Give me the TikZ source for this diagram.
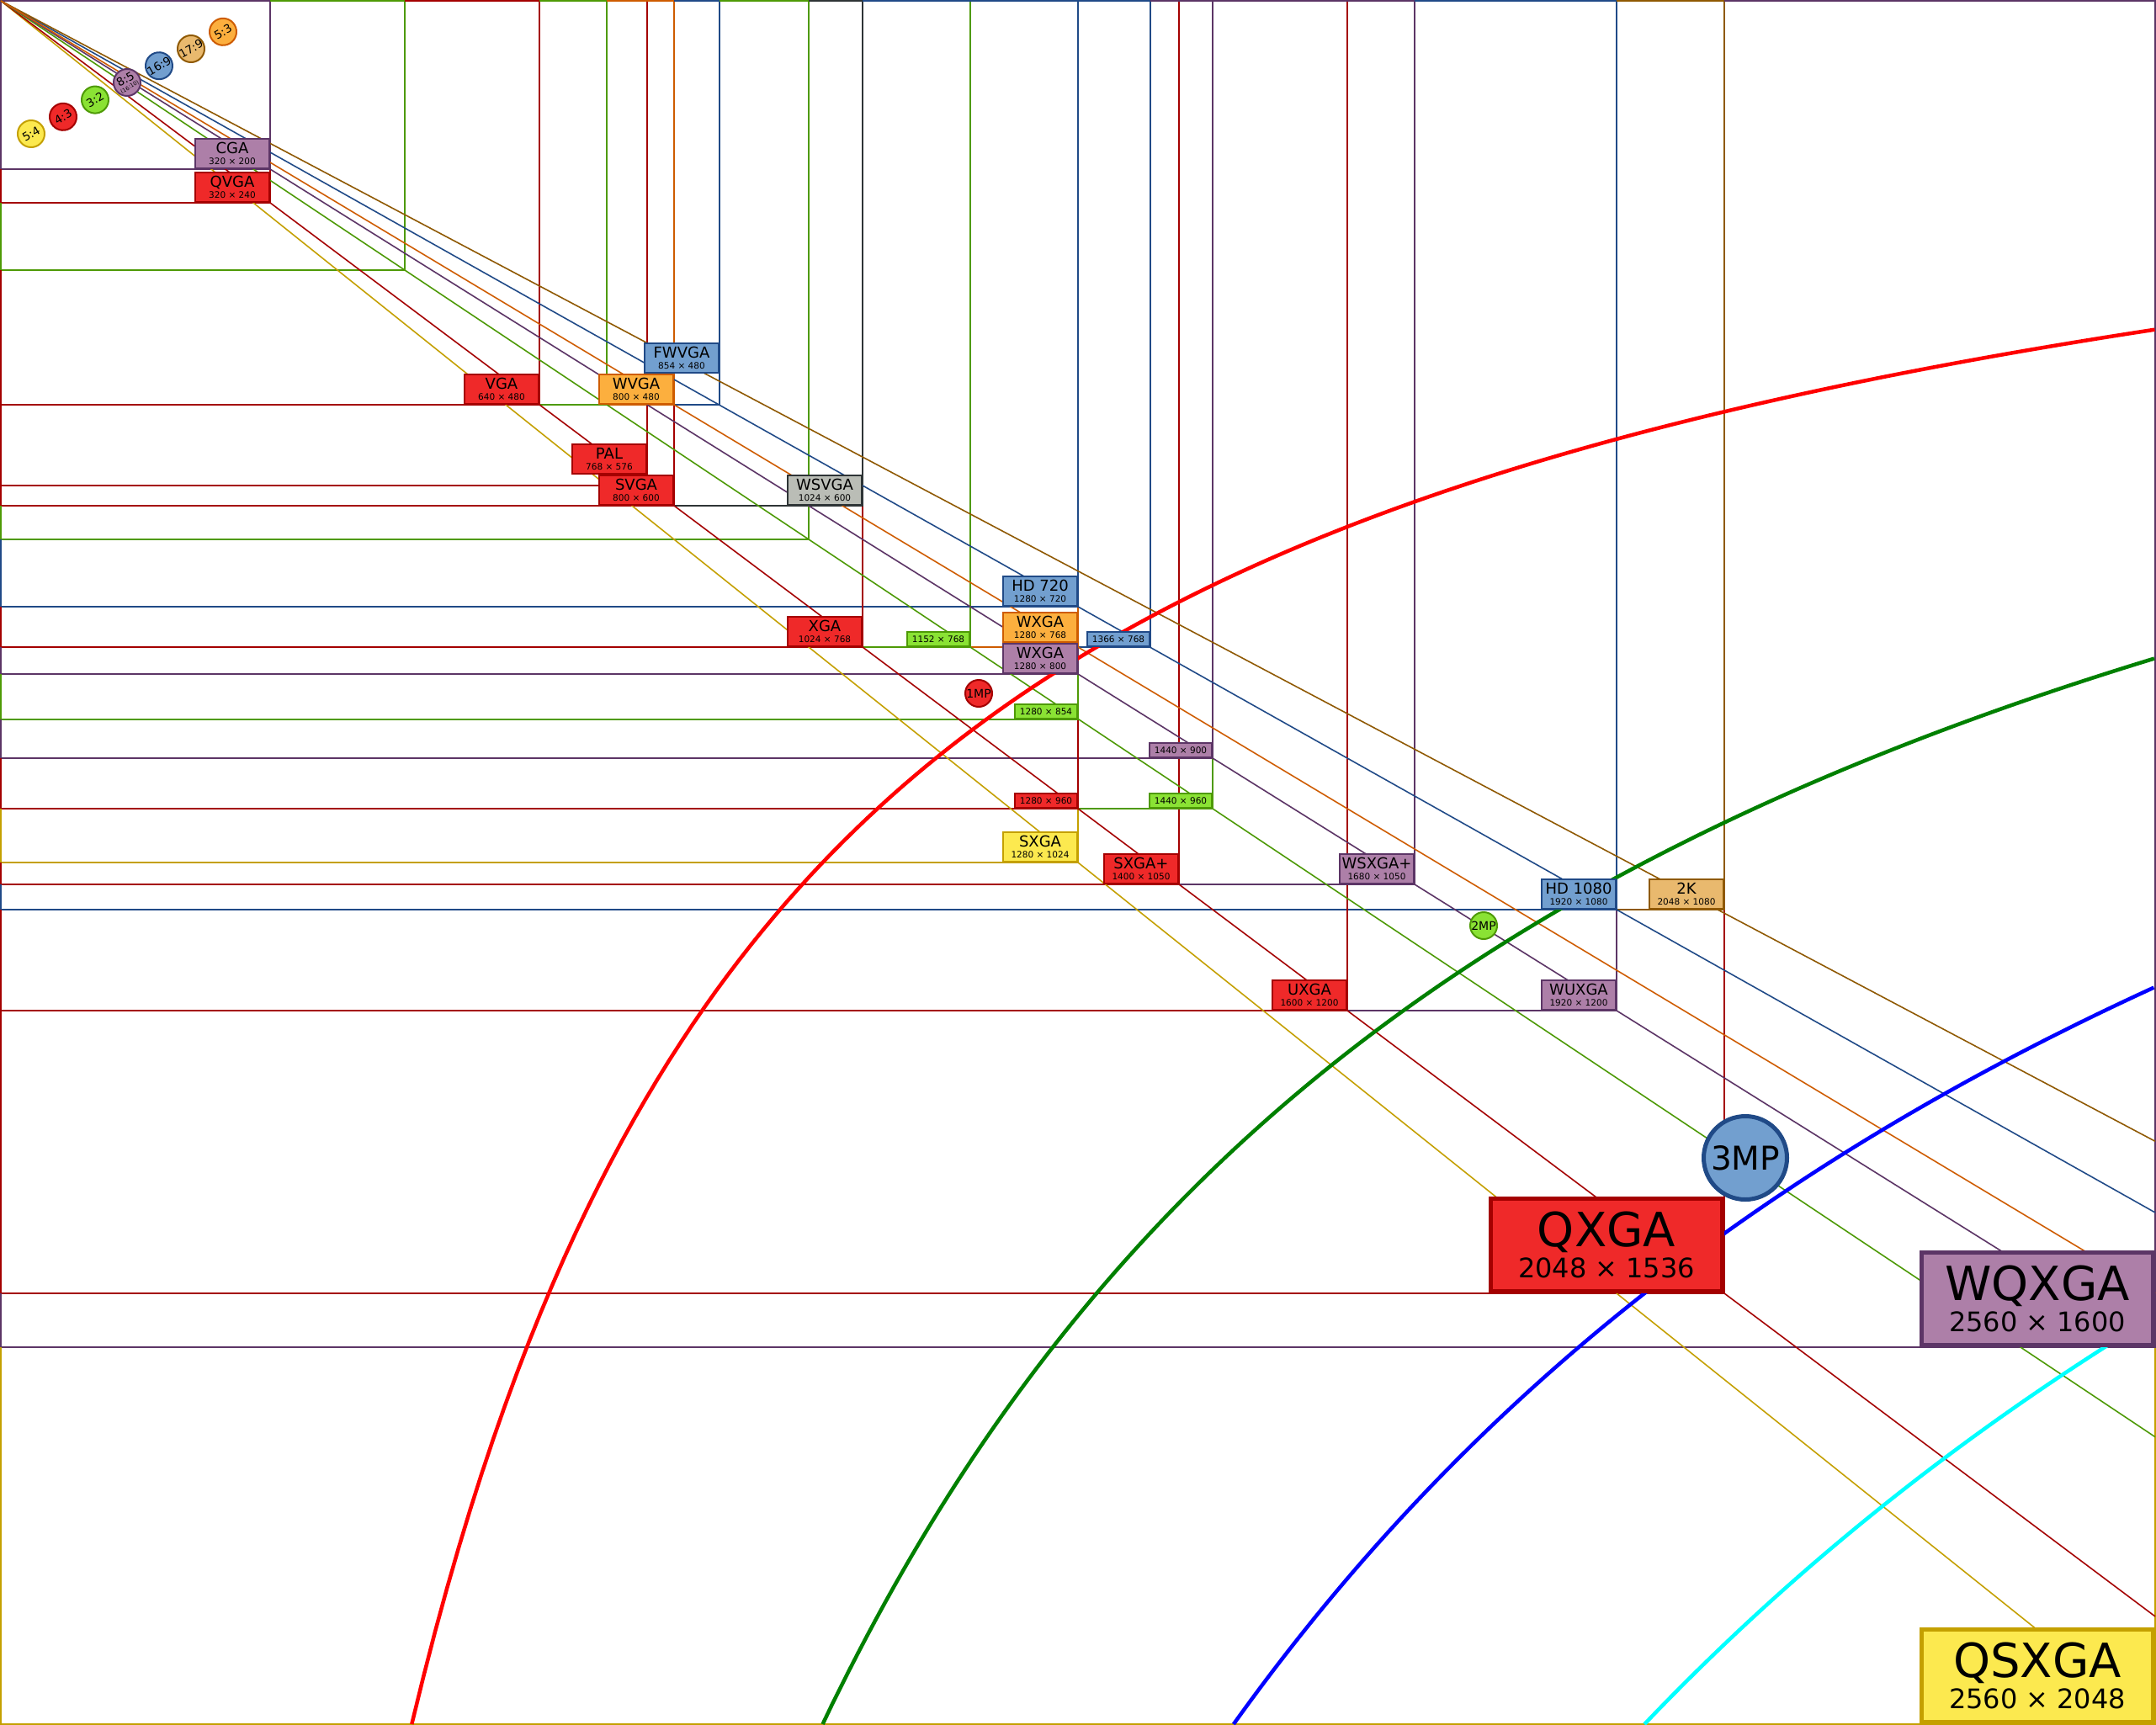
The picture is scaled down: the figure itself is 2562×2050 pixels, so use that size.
\documentclass[tikz,border=0pt]{standalone}
\usepackage{fontspec}
\setmainfont{DejaVu Sans}
\usetikzlibrary{positioning}
\definecolor{yellowLine}{HTML}{C4A000}
\definecolor{yellowFill}{HTML}{FCE94F}
\definecolor{redLine}{HTML}{A40000}
\definecolor{redFill}{HTML}{EF2929}
\definecolor{greenLine}{HTML}{4E9A06}
\definecolor{greenFill}{HTML}{8AE234}
\definecolor{purpleLine}{HTML}{5C3566}
\definecolor{purpleFill}{HTML}{AD7FA8}
\definecolor{blueLine}{HTML}{204A87}
\definecolor{blueFill}{HTML}{729FCF}
\definecolor{brownLine}{HTML}{8F5902}
\definecolor{brownFill}{HTML}{E9B96E}
\definecolor{orangeLine}{HTML}{CE5C00}
\definecolor{orangeFill}{HTML}{FCAF3E}
\definecolor{grayLine}{HTML}{2E3436}
\definecolor{grayFill}{HTML}{BABDB6}
\definecolor{curveRed}{HTML}{FF0000}
\definecolor{curveGreen}{HTML}{008000}
\definecolor{curveBlue}{HTML}{0000FF}
\definecolor{curveCyan}{HTML}{00FFFF}
\newcommand{\dimsize}{\fontsize{10.5}{12.3}\selectfont}
\newcommand{\bigdimsize}{\fontsize{32}{37.5}\selectfont}
\tikzset{
  resLine/.style={draw=#1Line, line width=2pt},
  ratioLine/.style={draw=#1Line, line width=1.6pt},
  mpCurve/.style={draw=#1, line width=4.5pt},
  resBox/.style={
    rectangle, draw=#1Line, fill=#1Fill, line width=2pt, inner sep=0pt,
    minimum width=88pt, minimum height=35pt, anchor=south east,
    align=center, font=\fontsize{18}{12.3}\selectfont,
  },
  resBoxSmall/.style={
    resBox=#1, minimum width=74pt, minimum height=17pt,
    font=\fontsize{10.5}{12}\selectfont,
  },
  resBoxBig/.style={
    resBox=#1, line width=5pt, minimum width=275pt, minimum height=110pt,
    font=\fontsize{56}{37.5}\selectfont,
  },
  ratioDot/.style={
    circle, draw=#1Line, fill=#1Fill, line width=2pt, inner sep=0pt,
    minimum size=32pt, rotate=30, align=center,
    font=\fontsize{13.5}{8}\selectfont,
  },
  mpDot/.style={
    circle, draw=#1Line, fill=#1Fill, line width=2pt, inner sep=0pt,
    minimum size=32pt, font=\fontsize{14}{14}\selectfont,
  },
}

\begin{document}
\begin{tikzpicture}[x=1pt, y=-1pt]
\useasboundingbox (-1,-1) rectangle (2561,2049);

% resolution rectangles, biggest first
\foreach \w/\h/\c in {2560/2048/yellow, 2560/1600/purple, 2048/1536/red,
    1920/1200/purple, 2048/1080/brown, 1920/1080/blue, 1600/1200/red,
    1680/1050/purple, 1400/1050/red, 1440/960/green, 1280/1024/yellow,
    1440/900/purple, 1280/960/red, 1280/854/green, 1366/768/blue,
    1280/800/purple, 1280/768/orange, 1280/720/blue, 1152/768/green,
    1024/768/red, 1024/600/gray, 960/640/green, 800/600/red, 768/576/red,
    854/480/blue, 800/480/orange, 720/480/green, 640/480/red,
    480/320/green, 320/240/red, 320/200/purple}
  \draw[resLine=\c] (0,0) rectangle (\w,\h);

% top and left edges
\foreach \a/\b/\c in {0/320/purple, 320/480/green, 480/640/red,
    640/720/green, 720/800/orange, 800/854/blue, 854/960/green,
    960/1024/gray, 1024/1366/blue, 1366/1680/purple, 1680/1920/blue,
    1920/2048/brown, 2048/2560/purple}
  \draw[resLine=\c] (\a,0) -- (\b,0);
\foreach \a/\b/\c in {0/200/purple, 200/240/red, 240/320/green,
    320/600/red, 600/640/green, 640/720/blue, 720/768/red, 768/800/purple,
    800/854/green, 854/900/purple, 900/960/red, 960/1024/yellow,
    1024/1050/red, 1050/1080/blue, 1080/1536/red, 1536/1600/purple,
    1600/2048/yellow}
  \draw[resLine=\c] (0,\a) -- (0,\b);

% aspect ratio lines
\foreach \c/\h in {yellow/2048, red/1920, green/1706.67, purple/1600,
    blue/1440, brown/1355.29, orange/1536}
  \draw[ratioLine=\c] (0,0) -- (2560,\h);

% megapixel curves x*y = k*10^6
\foreach \k/\c in {1/curveRed, 2/curveGreen, 3/curveBlue, 4/curveCyan}
  \draw[mpCurve=\c, domain=0.48828*\k:2.56, samples=150]
    plot ({1000*\x},{1000*\k/\x});

% labels
\node[resBox=purple] (cga)  at (320,200) {CGA\\\dimsize 320 × 200};
\node[resBox=red]    (qvga) at (320,240) {QVGA\\\dimsize 320 × 240};
\node[resBox=red]    (vga)  at (640,480) {VGA\\\dimsize 640 × 480};
\node[resBox=orange] (wvga) at (800,480) {WVGA\\\dimsize 800 × 480};
\node[resBox=blue]   (fwvga) at (854,0 |- wvga.north) {FWVGA\\\dimsize 854 × 480};
\node[resBox=red]    (svga) at (800,600) {SVGA\\\dimsize 800 × 600};
\node[resBox=red]    (pal)  at (768,0 |- svga.north) {PAL\\\dimsize 768 × 576};
\node[resBox=gray]   (wsvga) at (1024,600) {WSVGA\\\dimsize 1024 × 600};
\node[resBox=red]    (xga)  at (1024,768) {XGA\\\dimsize 1024 × 768};
\node[resBoxSmall=green] (sz1152) at (1152,768) {1152 × 768};
\node[resBox=blue]   (hd720) at (1280,720) {HD 720\\\dimsize 1280 × 720};
\node[resBox=purple] (wxgaWide) at (1280,800) {WXGA\\\dimsize 1280 × 800};
\node[resBox=orange] (wxga) at (1280,0 |- wxgaWide.north) {WXGA\\\dimsize 1280 × 768};
\node[resBoxSmall=blue]   (sz1366) at (1366,768) {1366 × 768};
\node[resBoxSmall=green]  (sz854)  at (1280,854) {1280 × 854};
\node[resBoxSmall=purple] (sz900)  at (1440,900) {1440 × 900};
\node[resBoxSmall=red]    (sz960)  at (1280,960) {1280 × 960};
\node[resBoxSmall=green]  (sz1440) at (1440,960) {1440 × 960};
\node[resBox=yellow] (sxga) at (1280,1024) {SXGA\\\dimsize 1280 × 1024};
\node[resBox=red]    (sxgaPlus) at (1400,1050) {SXGA+\\\dimsize 1400 × 1050};
\node[resBox=purple] (wsxgaPlus) at (1680,1050) {WSXGA+\\\dimsize 1680 × 1050};
\node[resBox=blue]   (hd1080) at (1920,1080) {HD 1080\\\dimsize 1920 × 1080};
\node[resBox=brown]  (twoK) at (2048,1080) {2K\\\dimsize 2048 × 1080};
\node[resBox=red]    (uxga) at (1600,1200) {UXGA\\\dimsize 1600 × 1200};
\node[resBox=purple] (wuxga) at (1920,1200) {WUXGA\\\dimsize 1920 × 1200};
\node[resBoxBig=red]    (qxga)  at (2048,1536) {QXGA\\\bigdimsize 2048 × 1536};
\node[resBoxBig=purple] (wqxga) at (2560,1600) {WQXGA\\\bigdimsize 2560 × 1600};
\node[resBoxBig=yellow] (qsxga) at (2560,2048) {QSXGA\\\bigdimsize 2560 × 2048};

% ratio key
\foreach \i/\t/\c in {0/5:4/yellow, 1/4:3/red, 2/3:2/green, 4/16:9/blue,
    5/17:9/brown, 6/5:3/orange}
  \node[ratioDot=\c] (ratio\i) at ({36+38*\i},{158-20.2*\i}) {\t};
\node[ratioDot=purple] (ratio3) at (150,97)
  {8:5\\{\fontsize{6.5}{7}\selectfont(16:10)}};

% megapixel marks
\node[mpDot=red]   (mpOne) at (1162,823) {1MP};
\node[mpDot=green] (mpTwo) at (1762,1099) {2MP};
\node[mpDot=blue, line width=5pt, minimum size=99pt,
      font=\fontsize{39}{39}\selectfont] (mpThree) at (2073,1375) {3MP};

\end{tikzpicture}
\end{document}
